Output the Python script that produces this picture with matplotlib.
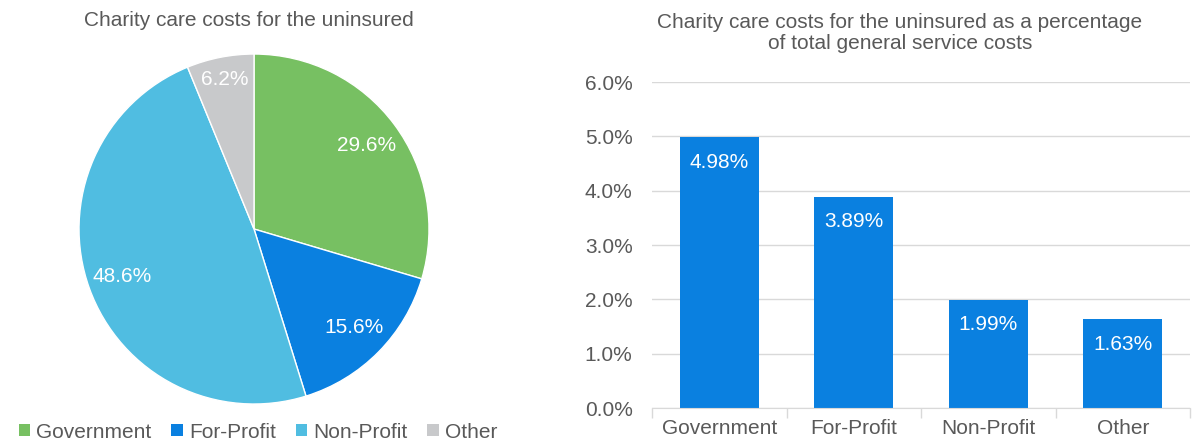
import matplotlib
matplotlib.use("Agg")
import matplotlib.pyplot as plt
from matplotlib.patches import Patch
from matplotlib.ticker import FuncFormatter, FixedLocator

plt.rcParams['font.family'] = ['Liberation Sans', 'DejaVu Sans']

# charity care share by ownership type
categories = ['Government', 'For-Profit', 'Non-Profit', 'Other']
pie_shares = [29.6, 15.6, 48.6, 6.2]
# charity care as % of total general service costs
bar_pcts = [4.98, 3.89, 1.99, 1.63]

colors = ['#77C062', '#0A80E0', '#50BDE1', '#C8C9CB']
bar_color = '#0A80E0'
txt = '#595959'
grid = '#D9D9D9'
fs = 15

fig = plt.figure(figsize=(11.99, 4.45), dpi=100)

# --- pie ---
ax1 = fig.add_axes([0.0659, 0.0921, 0.2919, 0.7865])
wedges, texts, autotexts = ax1.pie(
    pie_shares, colors=colors, startangle=90, counterclock=False,
    autopct=lambda p: f'{p:.1f}%', pctdistance=0.8,
    wedgeprops=dict(edgecolor='white', linewidth=1),
    textprops=dict(color='white', fontsize=fs))
# push the small slice label a bit further out
x, y = autotexts[3].get_position()
autotexts[3].set_position((x * 1.09, y * 1.09))
ax1.set_xlim(-1, 1)
ax1.set_ylim(-1, 1)
ax1.set_aspect('equal')
fig.text(248.5 / 1199, 1 - 20 / 445, 'Charity care costs for the uninsured',
         ha='center', va='center', fontsize=fs, color=txt)

handles = [Patch(facecolor=c, edgecolor='none') for c in colors]
fig.legend(handles, categories, loc='center', bbox_to_anchor=(258 / 1199, 1 - 432 / 445),
           ncol=4, frameon=False, fontsize=fs, labelcolor=txt,
           handlelength=0.55, handleheight=0.55, handletextpad=0.3,
           columnspacing=0.95, borderaxespad=0)

# --- bars ---
ax2 = fig.add_axes([0.5438, 0.0831, 0.4487, 0.7326])
xpos = list(range(len(categories)))
ax2.bar(xpos, [v / 100 for v in bar_pcts], width=0.59, color=bar_color, zorder=3)
for i, v in enumerate(bar_pcts):
    ax2.annotate(f'{v:.2f}%', xy=(i, v / 100), xytext=(0, -18),
                 textcoords='offset points', ha='center', va='center',
                 color='white', fontsize=fs)

ax2.set_xlim(-0.5, 3.5)
ax2.set_ylim(0, 0.06)
ax2.set_yticks([i / 100 for i in range(7)])
ax2.yaxis.set_major_formatter(FuncFormatter(lambda v, _: f'{v * 100:.1f}%'))
ax2.set_xticks(xpos)
ax2.set_xticklabels(categories)
ax2.xaxis.set_minor_locator(FixedLocator([-0.5, 0.5, 1.5, 2.5, 3.5]))
ax2.tick_params(axis='x', which='major', length=0, pad=8, labelsize=fs, labelcolor=txt)
ax2.tick_params(axis='x', which='minor', length=7, color=grid, width=1)
ax2.tick_params(axis='y', length=0, pad=14, labelsize=fs, labelcolor=txt)
ax2.grid(axis='y', color=grid, linewidth=1, zorder=0)
ax2.set_axisbelow(True)
for s in ['top', 'right', 'left']:
    ax2.spines[s].set_visible(False)
ax2.spines['bottom'].set_color(grid)
ax2.spines['bottom'].set_zorder(4)

fig.text(900 / 1199, 1 - 33 / 445,
         'Charity care costs for the uninsured as a percentage\nof total general service costs',
         ha='center', va='center', fontsize=fs, color=txt, linespacing=1.1)

fig.savefig('out.png', dpi=100)
